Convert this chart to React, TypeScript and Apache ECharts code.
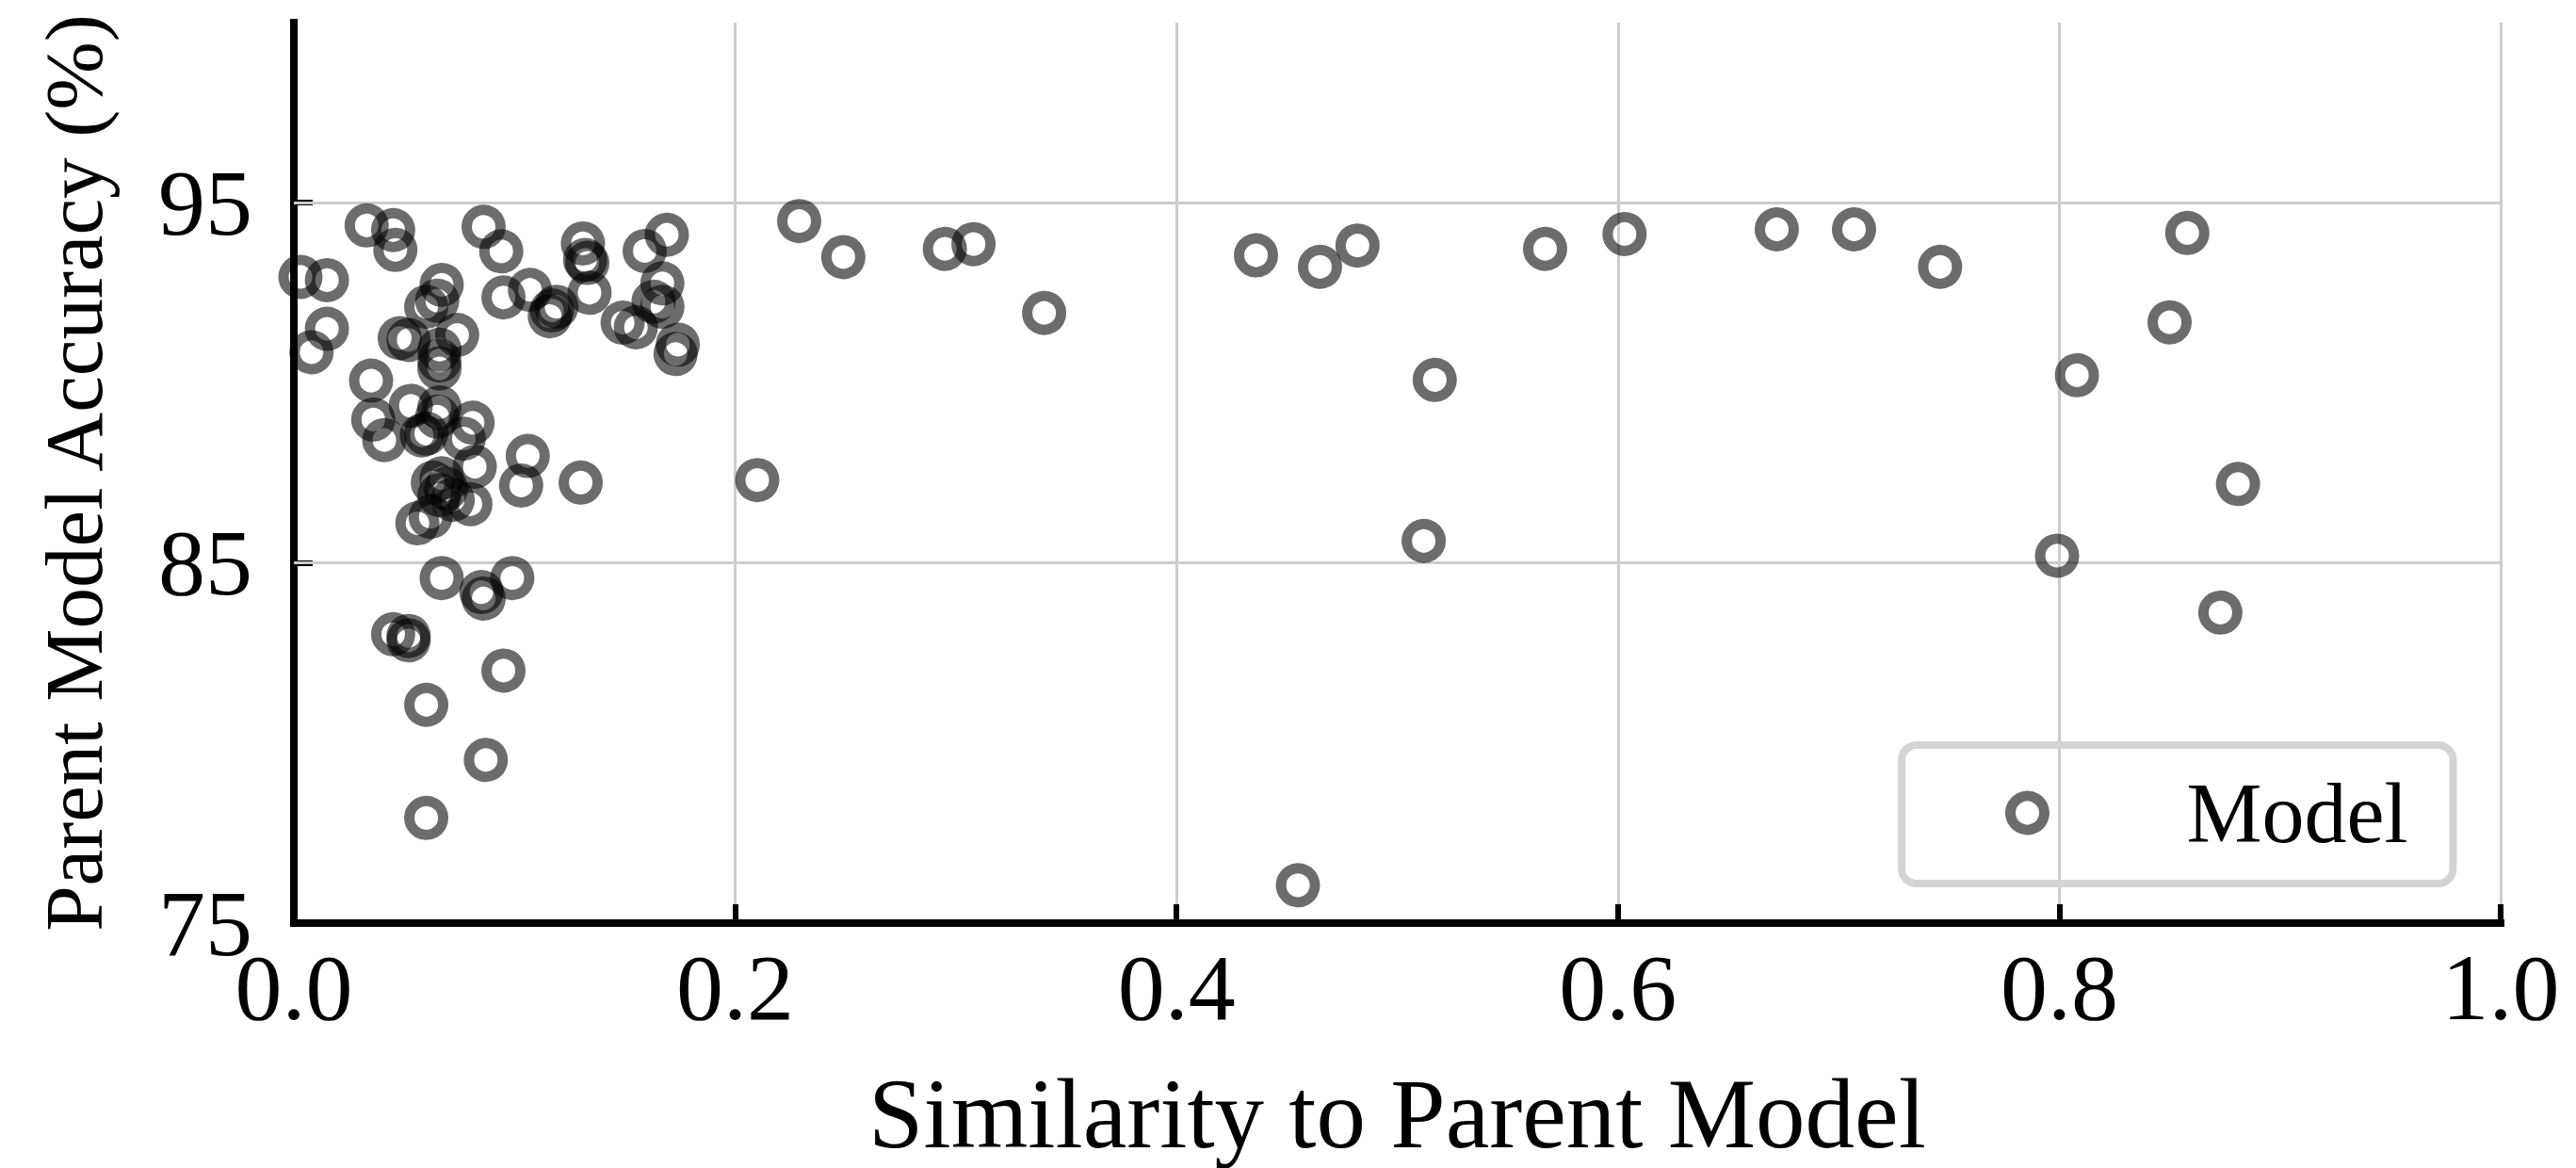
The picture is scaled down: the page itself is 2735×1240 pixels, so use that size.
import React, { useEffect, useRef } from 'react';
import * as echarts from 'echarts';

// Similarity to parent model (x) and parent model accuracy in % (y), one entry per model
const similarity = [
  0.033, 0.045, 0.046, 0.086, 0.094, 0.131, 0.169, 0.159, 0.003, 0.015,
  0.015, 0.008, 0.067, 0.065, 0.060, 0.095, 0.107, 0.117, 0.119, 0.116,
  0.132, 0.133, 0.134, 0.167, 0.167, 0.163, 0.149, 0.155, 0.174, 0.173,
  0.048, 0.052, 0.074, 0.066, 0.066, 0.066, 0.035, 0.036, 0.041, 0.053,
  0.066, 0.065, 0.058, 0.060, 0.081, 0.077, 0.106, 0.103, 0.130, 0.063,
  0.069, 0.066, 0.072, 0.067, 0.082, 0.080, 0.056, 0.062, 0.067, 0.085,
  0.086, 0.099, 0.045, 0.052, 0.052, 0.095, 0.060, 0.087, 0.060, 0.229,
  0.249, 0.295, 0.308, 0.340, 0.210, 0.436, 0.465, 0.482, 0.517, 0.512,
  0.455, 0.567, 0.603, 0.672, 0.707, 0.746, 0.858, 0.850, 0.808, 0.799,
  0.881, 0.873,
];
const accuracy = [
  94.37, 94.24, 93.69, 94.33, 93.65, 93.87, 94.11, 93.66, 92.94, 92.85,
  91.50, 90.85, 92.72, 92.28, 92.11, 92.37, 92.58, 92.01, 92.11, 91.85,
  93.41, 93.33, 92.50, 92.76, 92.11, 92.25, 91.67, 91.54, 91.06, 90.80,
  91.24, 91.19, 91.33, 90.92, 90.62, 90.40, 90.06, 88.98, 88.41, 89.36,
  89.32, 89.06, 88.54, 88.59, 88.89, 88.45, 87.97, 87.15, 87.23, 87.23,
  87.06, 86.88, 86.75, 87.35, 87.67, 86.63, 86.10, 86.28, 84.58, 84.19,
  84.01, 84.58, 83.02, 82.97, 82.85, 82.01, 81.06, 79.53, 77.92, 94.49,
  93.49, 93.72, 93.85, 91.94, 87.30, 93.54, 93.22, 93.81, 90.08, 85.61,
  76.05, 93.72, 94.13, 94.26, 94.26, 93.22, 94.16, 91.68, 90.21, 85.20,
  87.19, 83.62,
];

const xTicks = [0, 0.2, 0.4, 0.6, 0.8, 1.0];
const yTicks = [75, 85, 95];
const seriesName = 'Model';
const xTitle = 'Similarity to Parent Model';
const yTitle = 'Parent Model Accuracy (%)';

export default function App() {
  const ref = useRef<HTMLDivElement>(null);

  useEffect(() => {
    const chart = echarts.init(ref.current as HTMLDivElement, null, { renderer: 'svg' });
    const font = "'Liberation Serif', 'Times New Roman', serif";
    const data = similarity.map((x, i) => [x, accuracy[i]]);
    const yMin = 75;
    const yMax = 100;
    const ringStyle = {
      color: 'transparent',
      borderColor: 'rgba(0,0,0,0.72)',
      borderWidth: 11,
    };

    chart.setOption({
      animation: false,
      backgroundColor: '#ffffff',
      grid: { left: 312, right: 80, top: 24, bottom: 258, containLabel: false },
      xAxis: {
        type: 'value',
        min: xTicks[0],
        max: xTicks[xTicks.length - 1],
        interval: 0.2,
        name: xTitle,
        nameLocation: 'middle',
        nameGap: 150,
        nameTextStyle: { fontFamily: font, fontSize: 105, color: '#000' },
        axisLine: { show: true, onZero: false, lineStyle: { color: '#000', width: 8, cap: 'square' } },
        axisTick: { show: true, inside: true, length: 20, lineStyle: { color: '#000', width: 6 } },
        axisLabel: {
          margin: 18,
          fontFamily: font,
          fontSize: 100,
          color: '#000',
          showMinLabel: true,
          showMaxLabel: true,
          formatter: (v: number) => v.toFixed(1),
        },
        splitLine: { show: true, lineStyle: { color: '#cccccc', width: 3 } },
      },
      yAxis: {
        type: 'value',
        min: yMin,
        max: yMax,
        interval: 5,
        name: yTitle,
        nameLocation: 'middle',
        nameGap: 190,
        nameTextStyle: { fontFamily: font, fontSize: 87, color: '#000' },
        axisLine: { show: true, onZero: false, lineStyle: { color: '#000', width: 8, cap: 'square' } },
        axisTick: {
          show: true,
          inside: true,
          length: 20,
          customValues: yTicks,
          lineStyle: { color: '#000', width: 6 },
        },
        axisLabel: {
          margin: 44,
          fontFamily: font,
          fontSize: 100,
          color: '#000',
          customValues: yTicks,
          formatter: (v: number) => String(Math.round(v)),
        },
        splitLine: { show: false },
      },
      legend: {
        data: [seriesName],
        left: 2019,
        top: 791,
        orient: 'horizontal',
        icon: 'circle',
        itemWidth: 184,
        itemHeight: 36,
        padding: [27, 48, 30, 110],
        borderColor: '#d4d4d4',
        borderWidth: 8,
        borderRadius: 16,
        backgroundColor: 'transparent',
        selectedMode: false,
        itemStyle: { ...ringStyle },
        textStyle: {
          fontFamily: font,
          fontSize: 90,
          lineHeight: 90,
          color: '#000',
          padding: [0, 0, 0, 72],
        },
      },
      series: [
        {
          type: 'scatter',
          name: seriesName,
          data,
          symbol: 'circle',
          symbolSize: 36,
          itemStyle: ringStyle,
          emphasis: { disabled: true },
          z: 3,
          markLine: {
            silent: true,
            z: 1,
            symbol: ['none', 'none'],
            label: { show: false },
            emphasis: { disabled: true },
            lineStyle: { color: '#cccccc', width: 3, type: 'solid' },
            data: yTicks.filter((v) => v > yMin).map((v) => ({ yAxis: v })),
          },
        },
      ],
    });

    return () => chart.dispose();
  }, []);

  return (
    <div
      ref={ref}
      style={{ position: 'fixed', left: 0, top: 0, width: 2735, height: 1240, background: '#fff' }}
    />
  );
}
